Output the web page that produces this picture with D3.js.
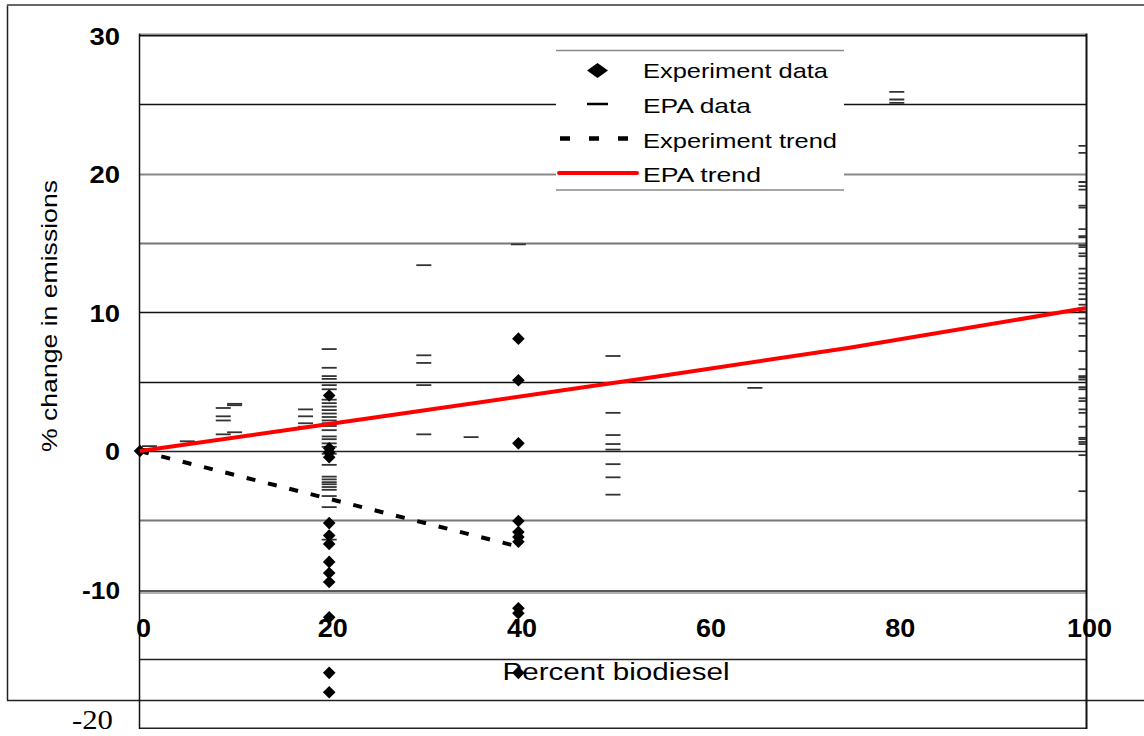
<!DOCTYPE html>
<html>
<head>
<meta charset="utf-8">
<script src="https://cdn.jsdelivr.net/npm/d3@7"></script>
<style>
  html, body { margin: 0; padding: 0; background: #fff; }
  svg { display: block; }
  text { font-family: "Liberation Sans", Arial, sans-serif; fill: #000; }
</style>
</head>
<body>
<svg id="chart" width="1144" height="736"></svg>
<script>
// ---- data -------------------------------------------------------------
// Experiment measurements (% change) grouped by biodiesel blend level
const experimentBlends = [0, 20, 40];
const experimentChanges = [
  [0],
  [4.0, 0.2, -0.1, -0.45, -5.2, -6.1, -6.7, -8.0, -8.8, -9.45, -12.0, -16.0, -17.4],
  [8.1, 5.1, 0.55, -5.05, -5.85, -6.2, -6.55, -11.35, -11.7, -16.0]
];

// EPA data (% change) grouped by blend level
const epaBlends = [1, 5, 8.8, 10, 17.5, 20, 30, 35, 40, 50, 65, 80, 100];
const epaChanges = [
  [0.35, 0.15],
  [0.7],
  [3.1, 2.5, 2.2, 1.2],
  [3.4, 3.3, 1.35],
  [3.0, 2.5, 2.0, 1.75],
  [7.35, 6.0, 5.4, 5.2, 4.75, 4.45, 3.7, 3.45, 3.2, 2.95, 2.7, 2.45, 2.2, 2.0, 1.8, 1.5,
   1.05, 0.85, 0.55, 0.3, -0.2, -1.0, -1.85, -2.05, -2.25, -2.4, -2.6, -2.8, -3.25, -4.05, -6.4],
  [13.4, 6.9, 6.35, 4.75, 1.2],
  [1.0],
  [14.9],
  [6.85, 4.9, 2.75, 1.15, 0.5, 0.1, -0.95, -1.9, -3.15],
  [4.55],
  [25.9, 25.35, 25.1],
  [22.0, 21.5, 19.4, 19.1, 18.85, 17.7, 17.55, 16.0, 15.5, 15.4, 14.85, 14.7, 14.25, 14.05,
   13.15, 12.8, 12.45, 12.1, 11.7, 11.3, 10.95, 10.55, 10.3, 10.05, 9.55, 9.2, 8.3, 7.2,
   5.9, 5.4, 5.3, 5.15, 4.6, 4.45, 3.8, 3.6, 3.0, 2.75, 1.75, 0.95, 0.85, 0.65, 0.5, -0.3, -2.9]
];

// Trend lines
const experimentTrendBlends = [0, 20, 40];
const experimentTrendChanges = [0, -3.45, -6.9];
const epaTrendBlends = [0, 20, 50, 75, 100];
const epaTrendChanges = [0, 1.95, 4.9, 7.45, 10.3];

// Axis ticks
const xTicks = [0, 20, 40, 60, 80, 100];
const yTicks = [-10, 0, 10, 20, 30];
const gridLevels = [25, 20, 15, 10, 5, 0, -5, -15];

const legendLabels = ["Experiment data", "EPA data", "Experiment trend", "EPA trend"];

// ---- layout -----------------------------------------------------------
const svg = d3.select("#chart");
const x = d3.scaleLinear().domain([0, 100]).range([140, 1086]);
const y = d3.scaleLinear().domain([-20, 30]).range([728.3, 35]);

const experimentPoints = experimentBlends.flatMap((b, i) => experimentChanges[i].map(v => [b, v]));
const epaPoints = epaBlends.flatMap((b, i) => epaChanges[i].map(v => [b, v]));

// outer frame
svg.append("line").attr("x1", 7.5).attr("x2", 7.5).attr("y1", 5).attr("y2", 700.5)
  .attr("stroke", "#222").attr("stroke-width", 1.5);
svg.append("line").attr("x1", 7).attr("x2", 1144).attr("y1", 5).attr("y2", 5)
  .attr("stroke", "#666").attr("stroke-width", 2);
svg.append("line").attr("x1", 7).attr("x2", 1144).attr("y1", 700.5).attr("y2", 700.5)
  .attr("stroke", "#222").attr("stroke-width", 1.5);

// gridlines
const gridColor = { 25: "#111", 20: "#888", 15: "#777", 10: "#111", 5: "#111", 0: "#222", "-5": "#777", "-15": "#222" };
svg.append("g").selectAll("line").data(gridLevels).join("line")
  .attr("x1", x(0)).attr("x2", x(100))
  .attr("y1", d => Math.round(y(d)) + 0.5).attr("y2", d => Math.round(y(d)) + 0.5)
  .attr("stroke", d => gridColor[d]).attr("stroke-width", d => gridColor[d] === "#111" || gridColor[d] === "#222" ? 1.4 : 1.8);

// -10 level drawn as a doubled rule
svg.append("line").attr("x1", x(0)).attr("x2", x(100))
  .attr("y1", y(-10) + 1.3).attr("y2", y(-10) + 1.3).attr("stroke", "#222").attr("stroke-width", 1.4);
svg.append("line").attr("x1", x(0)).attr("x2", x(100))
  .attr("y1", y(-10) + 3.3).attr("y2", y(-10) + 3.3).attr("stroke", "#999").attr("stroke-width", 1.4);

// plot frame
svg.append("line").attr("x1", x(0)).attr("x2", x(100)).attr("y1", y(30) - 0.8).attr("y2", y(30) - 0.8)
  .attr("stroke", "#888").attr("stroke-width", 1.4);
svg.append("line").attr("x1", x(0)).attr("x2", x(100)).attr("y1", y(30) + 0.8).attr("y2", y(30) + 0.8)
  .attr("stroke", "#111").attr("stroke-width", 1.4);
svg.append("line").attr("x1", x(0)).attr("x2", x(100)).attr("y1", y(-20)).attr("y2", y(-20))
  .attr("stroke", "#222").attr("stroke-width", 1.4);
svg.append("line").attr("x1", x(0) - 0.5).attr("x2", x(0) - 0.5).attr("y1", y(30) - 1.5).attr("y2", y(-20) + 0.7)
  .attr("stroke", "#111").attr("stroke-width", 1.5);
svg.append("line").attr("x1", x(100) + 0.5).attr("x2", x(100) + 0.5).attr("y1", y(30) - 1.5).attr("y2", y(-20) + 0.7)
  .attr("stroke", "#111").attr("stroke-width", 2);

// clip for EPA dashes
svg.append("clipPath").attr("id", "plotClip").append("rect")
  .attr("x", x(0)).attr("y", y(30)).attr("width", x(100) - x(0)).attr("height", y(-20) - y(30));

// EPA data: short horizontal dashes
svg.append("g").attr("clip-path", "url(#plotClip)")
  .selectAll("line").data(epaPoints).join("line")
  .attr("x1", d => x(d[0]) - 7.5).attr("x2", d => x(d[0]) + 7.5)
  .attr("y1", d => y(d[1])).attr("y2", d => y(d[1]))
  .attr("stroke", "#333").attr("stroke-width", 1.8);

// Experiment data: diamonds
const diamond = (cx, cy, hw, hh) => `M${cx},${cy - hh}L${cx + hw},${cy}L${cx},${cy + hh}L${cx - hw},${cy}Z`;
svg.append("g").selectAll("path").data(experimentPoints).join("path")
  .attr("d", d => diamond(x(d[0]), y(d[1]), 6.3, 6.3))
  .attr("fill", "#000");

// Trend lines
const line = d3.line().x(d => x(d[0])).y(d => y(d[1]));
svg.append("path")
  .attr("d", line(experimentTrendBlends.map((b, i) => [b, experimentTrendChanges[i]])))
  .attr("fill", "none").attr("stroke", "#000").attr("stroke-width", 4)
  .attr("stroke-dasharray", "9,13");
svg.append("path")
  .attr("d", line.curve(d3.curveMonotoneX)(epaTrendBlends.map((b, i) => [b, epaTrendChanges[i]])))
  .attr("fill", "none").attr("stroke", "#ff0000").attr("stroke-width", 4);

// ---- axes -------------------------------------------------------------
const plainNumber = d => String(d);

const yAxis = svg.append("g").attr("transform", "translate(120,0)")
  .call(d3.axisLeft(y).tickValues(yTicks).tickSize(0).tickPadding(0).tickFormat(plainNumber));
yAxis.select(".domain").remove();
yAxis.selectAll("text")
  .attr("x", 0).attr("dy", null).attr("y", 9)
  .style("font-family", "'Liberation Sans', Arial, sans-serif")
  .style("font-size", "24px").style("font-weight", "bold")
  .attr("text-anchor", "end")
  .attr("textLength", d => String(d).length === 2 ? 30.5 : (String(d).length === 3 ? 38 : 15))
  .attr("lengthAdjust", "spacingAndGlyphs");

const xAxis = svg.append("g").attr("transform", "translate(3,637)")
  .call(d3.axisBottom(x).tickValues(xTicks).tickSize(0).tickPadding(0).tickFormat(plainNumber));
xAxis.select(".domain").remove();
xAxis.selectAll("text")
  .attr("y", 0).attr("dy", null)
  .style("font-family", "'Liberation Sans', Arial, sans-serif")
  .style("font-size", "25px").style("font-weight", "bold")
  .attr("textLength", d => String(d).length * 15)
  .attr("lengthAdjust", "spacingAndGlyphs");

// lowest y label, set in a serif face
svg.append("text").attr("x", 72).attr("y", 729)
  .style("font-family", "'Liberation Serif', 'Times New Roman', serif")
  .style("font-size", "27px")
  .attr("textLength", 41).attr("lengthAdjust", "spacingAndGlyphs")
  .text("-20");

// axis titles
svg.append("text").attr("x", 616).attr("y", 680).attr("text-anchor", "middle")
  .style("font-size", "23px")
  .attr("textLength", 227).attr("lengthAdjust", "spacingAndGlyphs")
  .text("Percent biodiesel");
svg.append("text").attr("transform", "translate(57,316) rotate(-90)").attr("text-anchor", "middle")
  .style("font-size", "22px")
  .attr("textLength", 272).attr("lengthAdjust", "spacingAndGlyphs")
  .text("% change in emissions");

// ---- legend -----------------------------------------------------------
const legend = svg.append("g");
legend.append("rect").attr("x", 556).attr("y", 50).attr("width", 288).attr("height", 140).attr("fill", "#fff");
legend.append("line").attr("x1", 556).attr("x2", 844).attr("y1", 50.5).attr("y2", 50.5)
  .attr("stroke", "#888").attr("stroke-width", 1.6);
legend.append("line").attr("x1", 556).attr("x2", 844).attr("y1", 190).attr("y2", 190)
  .attr("stroke", "#888").attr("stroke-width", 1.6);

const rowY = [70.5, 104, 138.5, 173];
const baseY = [78, 112.5, 148, 182];
const textLen = [185, 108, 194, 118];
legend.selectAll("text").data(legendLabels).join("text")
  .attr("x", 643).attr("y", (d, i) => baseY[i])
  .style("font-size", "21px")
  .attr("textLength", (d, i) => textLen[i]).attr("lengthAdjust", "spacingAndGlyphs")
  .text(d => d);

legend.append("path").attr("d", diamond(597.5, rowY[0], 10.5, 7.5)).attr("fill", "#000");
legend.append("line").attr("x1", 587).attr("x2", 608).attr("y1", rowY[1]).attr("y2", rowY[1])
  .attr("stroke", "#000").attr("stroke-width", 2.5);
legend.append("line").attr("x1", 560).attr("x2", 630).attr("y1", rowY[2]).attr("y2", rowY[2])
  .attr("stroke", "#000").attr("stroke-width", 4.5).attr("stroke-dasharray", "10,19");
legend.append("line").attr("x1", 559).attr("x2", 637).attr("y1", rowY[3]).attr("y2", rowY[3])
  .attr("stroke", "#ff0000").attr("stroke-width", 4).attr("stroke-linecap", "round");
</script>
</body>
</html>
